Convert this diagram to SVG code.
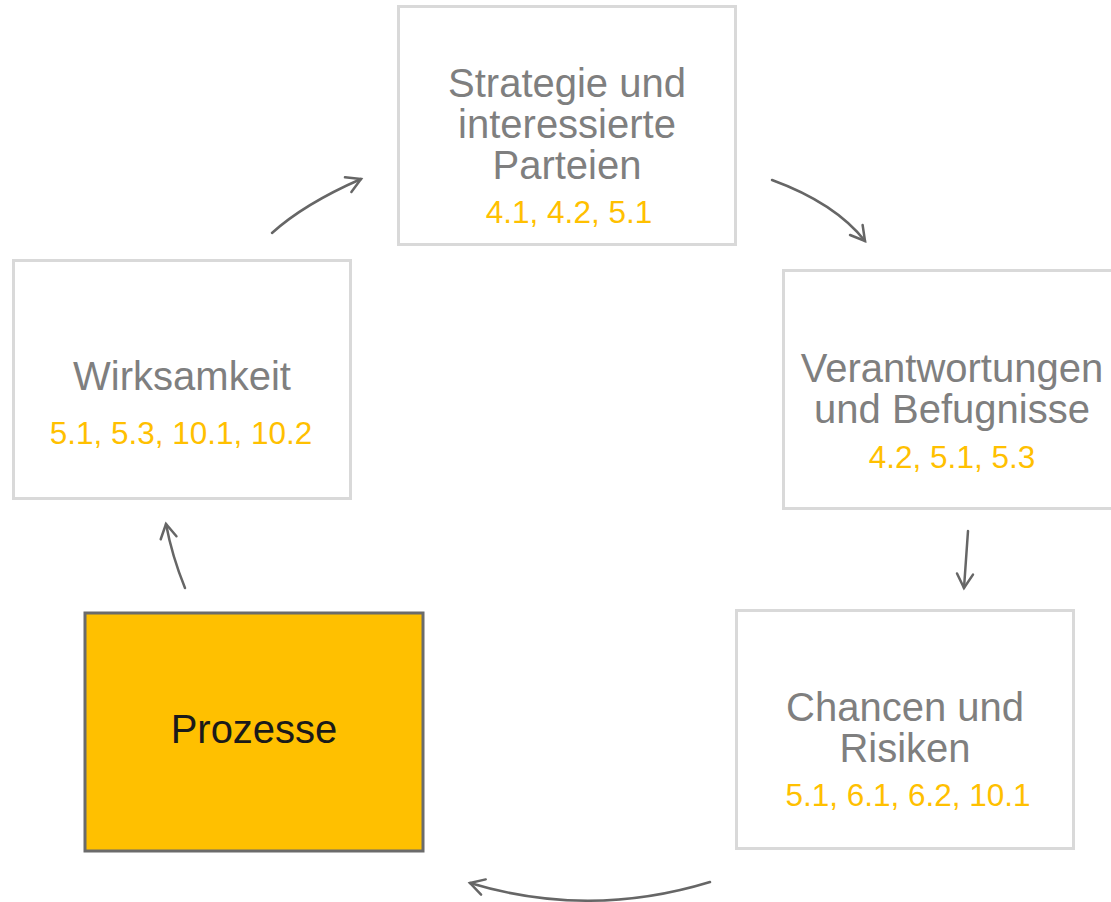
<svg xmlns="http://www.w3.org/2000/svg" width="1111" height="902" viewBox="0 0 1111 902">
  <style>
    .box { fill: #ffffff; stroke: #d9d9d9; stroke-width: 3; }
    .box-active { fill: #ffc000; stroke: #6b6b6b; stroke-width: 3; }
    .title { font-family: "Liberation Sans", Arial, sans-serif; font-size: 40px; fill: #7f7f7f; text-anchor: middle; }
    .title-dark { font-family: "Liberation Sans", Arial, sans-serif; font-size: 40px; fill: #1a1a1a; text-anchor: middle; }
    .refs { font-family: "Liberation Sans", Arial, sans-serif; font-size: 31.5px; fill: #ffc000; text-anchor: middle; }
    .flow { fill: none; stroke: #666666; stroke-width: 2.5; stroke-linecap: round; marker-end: url(#arrow); }
  </style>
  <defs>
    <marker id="arrow" viewBox="-16 -10 20 20" refX="0" refY="0" markerWidth="20" markerHeight="20" markerUnits="userSpaceOnUse" orient="auto">
      <path d="M-14,-8 L0,0 L-14,8" fill="none" stroke="#666666" stroke-width="2.5" stroke-linecap="round" stroke-linejoin="miter"/>
    </marker>
  </defs>

  <rect width="1111" height="902" fill="#ffffff"/>

  <g id="strategie">
    <rect class="box" x="398.5" y="6.5" width="337" height="238"/>
    <text class="title" x="567" y="97">Strategie und</text>
    <text class="title" x="567" y="138">interessierte</text>
    <text class="title" x="567" y="179">Parteien</text>
    <text class="refs" x="569" y="223">4.1, 4.2, 5.1</text>
  </g>

  <g id="verantwortungen">
    <rect class="box" x="783.5" y="270.5" width="337" height="238"/>
    <text class="title" x="952" y="382">Verantwortungen</text>
    <text class="title" x="952" y="423">und Befugnisse</text>
    <text class="refs" x="952" y="468">4.2, 5.1, 5.3</text>
  </g>

  <g id="chancen">
    <rect class="box" x="736.5" y="610.5" width="337" height="238"/>
    <text class="title" x="905" y="721">Chancen und</text>
    <text class="title" x="905" y="762">Risiken</text>
    <text class="refs" x="908" y="806">5.1, 6.1, 6.2, 10.1</text>
  </g>

  <g id="prozesse">
    <rect class="box-active" x="85" y="613" width="338" height="238"/>
    <text class="title-dark" x="254" y="743">Prozesse</text>
  </g>

  <g id="wirksamkeit">
    <rect class="box" x="13.5" y="260.5" width="337" height="238"/>
    <text class="title" x="182" y="390">Wirksamkeit</text>
    <text class="refs" x="181" y="444">5.1, 5.3, 10.1, 10.2</text>
  </g>

  <g id="connectors">
    <path class="flow" d="M272,233 Q304,204 361,179"/>
    <path class="flow" d="M772,180 Q835,203 865,241"/>
    <path class="flow" d="M968,531 Q966,560 964,588"/>
    <path class="flow" d="M710,882 Q589,919 470,883"/>
    <path class="flow" d="M185,588 Q172,556 166,524"/>
  </g>
</svg>
